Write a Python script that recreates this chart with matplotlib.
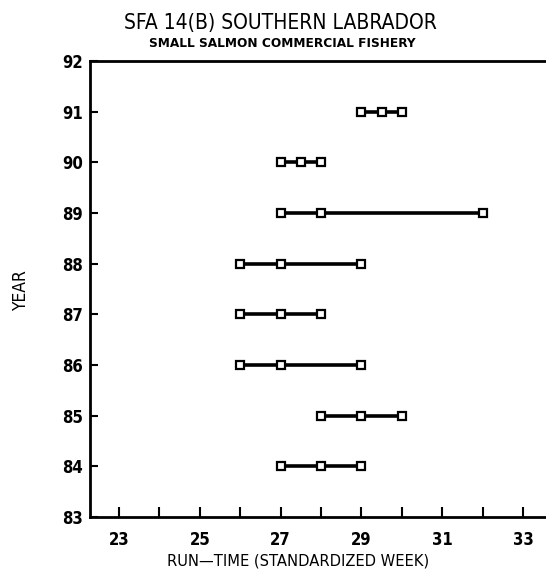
import matplotlib
matplotlib.use("Agg")
import matplotlib.pyplot as plt
from matplotlib.ticker import FixedLocator

years = [84, 85, 86, 87, 88, 89, 90, 91]
run_start = [27, 28, 26, 26, 26, 27, 27, 29]
run_median = [28, 29, 27, 27, 27, 28, 27.5, 29.5]
run_end = [29, 30, 29, 28, 29, 32, 28, 30]
x_tick_labels = [23, 25, 27, 29, 31, 33]
y_ticks = [83, 84, 85, 86, 87, 88, 89, 90, 91, 92]

plt.rcParams['font.family'] = ['DejaVu Sans']
plt.rcParams['font.stretch'] = 'condensed'

fig = plt.figure(figsize=(5.46, 5.80), dpi=100)
ax = fig.add_axes([90/546, 1-517/580, (546-90)/546, (517-61)/580])

for y, s, m, e in zip(years, run_start, run_median, run_end):
    ax.plot([s, m, e], [y, y, y], color='black', lw=2.6,
            marker='s', markersize=5.5, markerfacecolor='white',
            markeredgecolor='black', markeredgewidth=1.6, zorder=3)

ax.set_xlim(22.28, 33.57)
ax.set_ylim(83, 92)
ax.xaxis.set_major_locator(FixedLocator(x_tick_labels))
ax.xaxis.set_minor_locator(FixedLocator([24, 26, 28, 30, 32]))
ax.set_xticklabels([str(v) for v in x_tick_labels], fontsize=12, fontweight='bold')
ax.set_yticks(y_ticks)
ax.set_yticklabels([str(v) for v in y_ticks], fontsize=12, fontweight='bold')
ax.tick_params(axis='x', which='both', direction='in', length=7, width=1.5, pad=10)
ax.tick_params(axis='y', which='both', direction='in', length=6, width=1.5, pad=5)
for sp in ['left', 'bottom', 'top']:
    ax.spines[sp].set_linewidth(2)
ax.spines['right'].set_visible(False)

fig.text(298/546, 1-565/580, 'RUN\u2014TIME (STANDARDIZED WEEK)', ha='center', va='baseline', fontsize=11.8)
fig.text(21/546, 1-291/580, 'YEAR', rotation=90, ha='center', va='center', fontsize=12.5)
fig.text(280/546, 1-29/580, 'SFA 14(B) SOUTHERN LABRADOR', ha='center', va='baseline', fontsize=15)
fig.text(282/546, 1-47/580, 'SMALL SALMON COMMERCIAL FISHERY', ha='center', va='baseline', fontsize=9.7, fontweight='bold')

fig.savefig('out.png', dpi=100)
